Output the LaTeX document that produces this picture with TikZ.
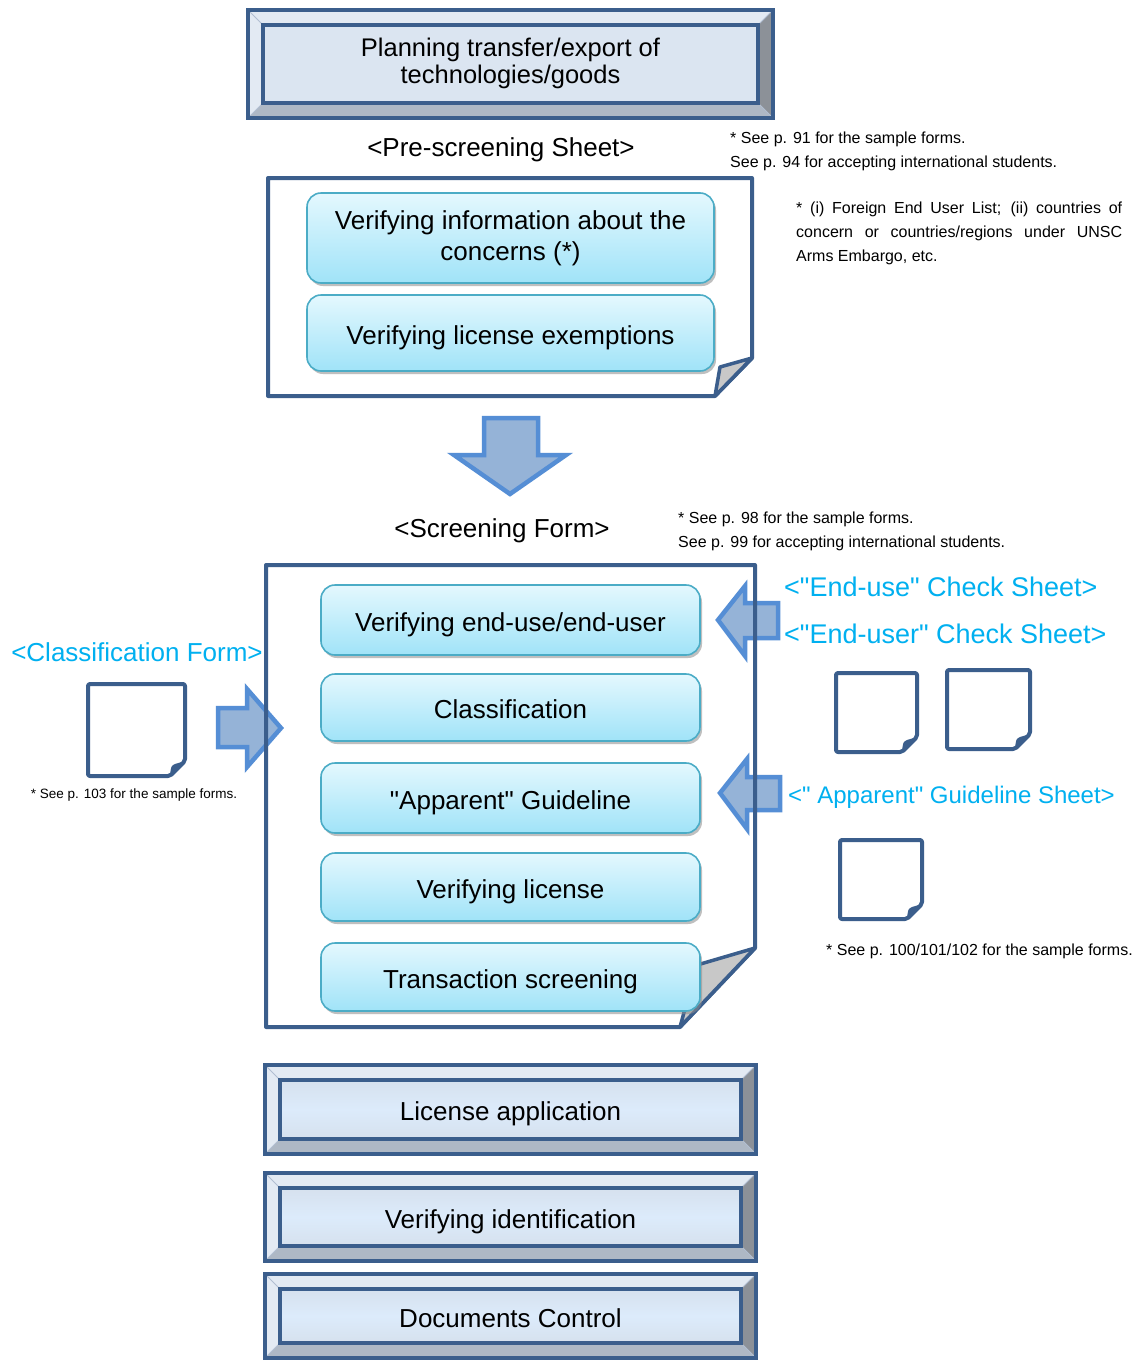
\documentclass[tikz,border=0pt]{standalone}
\usepackage{fontspec}
\setmainfont{Liberation Sans}[Ligatures=TeXOff]
\usetikzlibrary{shadows}
\definecolor{dblue}{HTML}{3B5E8C}
\definecolor{tealb}{HTML}{4BACC6}
\definecolor{cyT}{HTML}{E4F8FE}
\definecolor{cyB}{HTML}{A0E3F8}
\definecolor{afill}{HTML}{95B3D7}
\definecolor{aline}{HTML}{558ED5}
\definecolor{cyantext}{HTML}{00B0F0}
\definecolor{bvlight}{HTML}{E3EAF3}
\definecolor{bvright}{HTML}{8C9198}
\definecolor{bvbottom}{HTML}{AEB8C5}
\definecolor{topin}{HTML}{DBE5F1}
\definecolor{botin}{HTML}{DCEBFB}
\definecolor{botband}{HTML}{D6E1EE}
\definecolor{foldgray}{HTML}{C8C8C8}
\newcommand{\bigf}{\fontsize{26}{31}\selectfont}
\newcommand{\notef}{\fontsize{16}{24}\selectfont}
\tikzset{
  page/.style={draw=dblue, line width=4pt, fill=white, line join=round},
  pageedge/.style={draw=dblue, line width=4pt, line join=round},
  fold/.style={draw=dblue, line width=3.5pt, fill=foldgray, line join=round},
  stepbox/.style={draw=tealb, line width=1.6pt, rounded corners=14pt, top color=cyT, bottom color=cyB,
    inner sep=0pt, align=center, font=\bigf, minimum width=379pt,
    drop shadow={shadow xshift=2pt, shadow yshift=-3pt, fill=black!45, opacity=0.55}},
  oneline/.style={text height=22pt, text depth=0pt},
  blockarrow/.style={draw=aline, fill=afill, line width=4.5pt, line join=miter},
  heading/.style={font=\bigf, inner sep=0pt},
  formlabel/.style={font=\fontsize{27}{31}\selectfont, text=cyantext, inner sep=0pt},
  note/.style={font=\notef, inner sep=0pt, anchor=west},
  bevtext/.style={font=\bigf, inner sep=0pt, align=center},
  docicon/.style={draw=dblue, line width=4pt, fill=white, rounded corners=2pt, line join=round},
  topinner/.style={fill=topin},
  botinner/.style={top color=botband, bottom color=botband, middle color=botin}
}
% name x1 y1 x2 y2 text innerstyle nodeoptions
\newcommand{\bevelbox}[8]{%
  \fill[bvlight] (#2,#3) -- (#4,#3) -- ({#4-15},{#3+15}) -- ({#2+15},{#3+15}) -- cycle;
  \fill[bvlight] (#2,#3) -- ({#2+15},{#3+15}) -- ({#2+15},{#5-15}) -- (#2,#5) -- cycle;
  \fill[bvright] (#4,#3) -- (#4,#5) -- ({#4-15},{#5-15}) -- ({#4-15},{#3+15}) -- cycle;
  \fill[bvbottom] (#2,#5) -- (#4,#5) -- ({#4-15},{#5-15}) -- ({#2+15},{#5-15}) -- cycle;
  \draw[white!60!dblue, line width=0.8pt] (#2,#3) -- ({#2+15},{#3+15}) (#4,#3) -- ({#4-15},{#3+15})
     (#2,#5) -- ({#2+15},{#5-15}) (#4,#5) -- ({#4-15},{#5-15});
  \path[#7] ({#2+15},{#3+15}) rectangle ({#4-15},{#5-15});
  \draw[dblue, line width=3.5pt] ({#2+15},{#3+15}) rectangle ({#4-15},{#5-15});
  \draw[dblue, line width=4pt] (#2,#3) rectangle (#4,#5);
  \node[bevtext, #8] (#1) at ({(#2+#4)/2},{(#3+#5)/2}) {#6};
}
% x1 y1 x2 y2
\newcommand{\docic}[4]{%
  \draw[docicon] (#1,#2) -- (#3,#2) -- (#3,{#4-15}) -- ({#3-15},#4) -- (#1,#4) -- cycle;
  \fill[dblue] (#3,{#4-15}) -- ({#3-10},{#4-12}) .. controls ({#3-14},{#4-10}) .. ({#3-15},#4) -- cycle;
}
\begin{document}
\begin{tikzpicture}[x=1pt,y=-1pt]
\useasboundingbox[fill=white] (0,0) rectangle (1132,1360);

% top box
\bevelbox{plan}{248}{10}{773}{118}{Planning transfer/export of\\technologies/goods}{topinner}{font=\fontsize{25.5}{27}\selectfont, yshift=1pt}

% pre-screening
\node[heading] (preh) at (501,150) {<Pre-screening Sheet>};
\node[note] (n1) at (730,139) {* See p. 91 for the sample forms.};
\node[note] (n2) at (730,163) {See p. 94 for accepting international students.};
\node[note, align=left] (n3) at (796,233)
  {\makebox[326pt][s]{* (i) Foreign End User List; (ii) countries of}\\
   \makebox[326pt][s]{concern or countries/regions under UNSC}\\
   Arms Embargo, etc.};

\draw[page] (268,178) -- (752,178) -- (752,358) -- (715,396) -- (268,396) -- cycle;
\draw[fold] (752,358) -- (720,367) -- (715,396) -- cycle;
\node[stepbox, minimum width=407pt, minimum height=90pt] (p1) at (510.5,238)
  {Verifying information about the\\concerns (*)};
\node[stepbox, oneline, minimum width=407pt, minimum height=76pt] (p2) at (510.5,333)
  {Verifying license exemptions};

% down arrow
\draw[blockarrow] (484,418) -- (538,418) -- (538,455) -- (566,455) -- (510,494) -- (454,455) -- (484,455) -- cycle;

% screening
\node[heading] (scrh) at (502,531) {<Screening Form>};
\node[note] (n4) at (678,519) {* See p. 98 for the sample forms.};
\node[note] (n5) at (678,543) {See p. 99 for accepting international students.};

\fill[white] (266,565) -- (755,565) -- (755,948) -- (680,1027) -- (266,1027) -- cycle;
\draw[blockarrow] (218,708) -- (247,708) -- (247,689) -- (281,728) -- (247,767) -- (247,747) -- (218,747) -- cycle;
\draw[blockarrow] (778,603) -- (745,603) -- (745,586) -- (718,620) -- (745,656) -- (745,638) -- (778,638) -- cycle;
\draw[blockarrow] (780,777) -- (747,777) -- (747,759) -- (720,793) -- (747,829) -- (747,810) -- (780,810) -- cycle;
\draw[pageedge] (266,565) -- (755,565) -- (755,948) -- (680,1027) -- (266,1027) -- cycle;
\draw[fold] (755,948) -- (697,965) -- (680,1027) -- cycle;

\node[stepbox, oneline, minimum height=70pt] (s1) at (510.5,620) {Verifying end-use/end-user};
\node[stepbox, oneline, minimum height=67pt] (s2) at (510.5,707.5) {Classification};
\node[stepbox, oneline, minimum height=70pt] (s3) at (510.5,798) {"Apparent" Guideline};
\node[stepbox, oneline, minimum height=68pt] (s4) at (510.5,887) {Verifying license};
\node[stepbox, oneline, minimum height=68pt] (s5) at (510.5,977) {Transaction screening};

% left side
\node[formlabel, font=\fontsize{26}{30}\selectfont] (clf) at (137,652) {<Classification Form>};
\docic{88}{684}{185}{776}
\node[font=\fontsize{13.5}{16}\selectfont, inner sep=0pt] (n6) at (134,795) {* See p. 103 for the sample forms.};

% right side
\node[formlabel, anchor=west] (eu) at (784,587) {<"End-use" Check Sheet>};
\node[formlabel, anchor=west] (eur) at (784,634) {<"End-user" Check Sheet>};
\docic{836}{673}{917}{752}
\docic{947}{670}{1030}{749}
\node[formlabel, anchor=west, font=\fontsize{24}{28}\selectfont] (app) at (788,797) {<" Apparent" Guideline Sheet>};
\docic{840}{840}{922}{919}
\node[note] (n7) at (826,951) {* See p. 100/101/102 for the sample forms.};

% bottom boxes
\bevelbox{lic}{265}{1065}{756}{1154}{License application}{botinner}{oneline}
\bevelbox{vid}{265}{1173}{756}{1261}{Verifying identification}{botinner}{oneline}
\bevelbox{doc}{265}{1274}{756}{1358}{Documents Control}{botinner}{oneline}
\end{tikzpicture}
\end{document}
